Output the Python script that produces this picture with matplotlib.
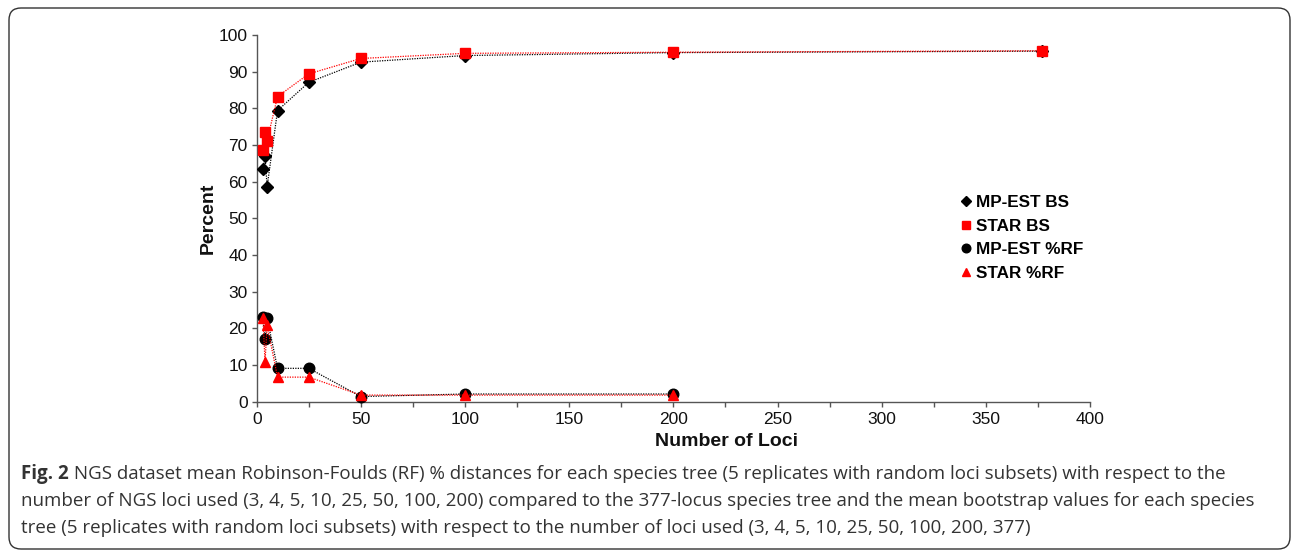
import matplotlib
matplotlib.use("Agg")
import matplotlib.pyplot as plt
from matplotlib.lines import Line2D
from matplotlib.patches import FancyBboxPatch
from matplotlib.ticker import MultipleLocator

# ---- data ----
loci_bs = [3, 4, 5, 10, 25, 50, 100, 200, 377]
mpest_bs = [63.5, 67.0, 58.6, 79.4, 87.1, 92.6, 94.4, 95.2, 95.6]
star_bs = [68.6, 73.6, 71.2, 83.2, 89.4, 93.6, 95.0, 95.3, 95.7]
loci_rf = [3, 4, 5, 10, 25, 50, 100, 200]
mpest_rf = [23.0, 17.0, 22.8, 9.1, 9.1, 1.4, 2.1, 2.1]
star_rf = [22.8, 10.9, 20.8, 6.7, 6.7, 1.8, 1.8, 1.8]
series_labels = ["MP-EST BS", "STAR BS", "MP-EST %RF", "STAR %RF"]
x_label = "Number of Loci"
y_label = "Percent"
caption_bold = "Fig. 2"
caption_lines = [
    " NGS dataset mean Robinson-Foulds (RF) % distances for each species tree (5 replicates with random loci subsets) with respect to the",
    "number of NGS loci used (3, 4, 5, 10, 25, 50, 100, 200) compared to the 377-locus species tree and the mean bootstrap values for each species",
    "tree (5 replicates with random loci subsets) with respect to the number of loci used (3, 4, 5, 10, 25, 50, 100, 200, 377)",
]

W, H = 1292, 551
plt.rcParams['font.family'] = ['Liberation Sans', 'DejaVu Sans']
fig = plt.figure(figsize=(W / 100, H / 100), dpi=100)
fig.patch.set_facecolor('white')

# rounded frame
frame = FancyBboxPatch((9 / 100, 2 / 100), (1290 - 9) / 100, (549 - 8) / 100,
                       boxstyle="round,pad=0,rounding_size=0.12",
                       transform=fig.dpi_scale_trans, facecolor='none',
                       edgecolor='#333333', linewidth=1.0, zorder=0)
fig.patches.append(frame)

left, right, top, bottom = 256.7, 1090.0, 35.0, 401.7
ax = fig.add_axes([left / W, 1 - bottom / H, (right - left) / W, (bottom - top) / H])
ax.set_facecolor('none')

ax.plot(loci_bs, mpest_bs, linestyle=(0, (1, 1)), color='black', lw=0.9,
        marker='D', ms=6.2, mfc='black', mec='black', label=series_labels[0], zorder=3)
ax.plot(loci_bs, star_bs, linestyle=(0, (1, 1)), color='red', lw=0.9,
        marker='s', ms=7.0, mfc='red', mec='red', label=series_labels[1], zorder=4)
ax.plot(loci_rf, mpest_rf, linestyle=(0, (1, 1)), color='black', lw=0.9,
        marker='o', ms=7.6, mfc='black', mec='black', label=series_labels[2], zorder=5)
ax.plot(loci_rf, star_rf, linestyle=(0, (1, 1)), color='red', lw=0.9,
        marker='^', ms=7.6, mfc='red', mec='red', label=series_labels[3], zorder=6)

ax.set_xlim(0, 400)
ax.set_ylim(0, 100)
ax.xaxis.set_major_locator(MultipleLocator(50))
ax.xaxis.set_minor_locator(MultipleLocator(25))
ax.yaxis.set_major_locator(MultipleLocator(10))
for s in ['top', 'right']:
    ax.spines[s].set_visible(False)
for s in ['left', 'bottom']:
    ax.spines[s].set_color('#555555')
    ax.spines[s].set_linewidth(1.0)
    ax.spines[s].set_zorder(1)
ax.tick_params(axis='both', which='both', direction='out', length=3.5, width=1.0,
               color='#555555', labelsize=12.5, labelcolor='#111111')
ax.tick_params(axis='y', pad=3)
ax.tick_params(axis='x', pad=4)
for l in ax.lines:
    l.set_clip_on(False)

fig.text(208 / W, 1 - 218 / H, y_label, rotation=90, ha='center', va='center',
         fontsize=14, fontweight='bold', color='#111111')
fig.text(726 / W, 1 - 442 / H, x_label, ha='center', va='center',
         fontsize=14, fontweight='bold', color='#111111')

handles = [
    Line2D([], [], ls='none', marker='D', ms=4.6, color='black'),
    Line2D([], [], ls='none', marker='s', ms=5.5, color='red'),
    Line2D([], [], ls='none', marker='o', ms=6.2, color='black'),
    Line2D([], [], ls='none', marker='^', ms=6.2, color='red'),
]
leg = ax.legend(handles, series_labels, loc='upper left',
                bbox_to_anchor=(961 / W, 1 - 195 / H), bbox_transform=fig.transFigure,
                frameon=False, handlelength=0.55, handletextpad=0.35,
                labelspacing=0.5, borderpad=0, borderaxespad=0,
                prop={'weight': 'bold', 'size': 12.3})

# caption
cap_font = dict(family=['Open Sans', 'DejaVu Sans'], fontsize=13.5, color='#333333')
baselines = [479, 506, 533]
fig.canvas.draw()
renderer = fig.canvas.get_renderer()
tb = fig.text(21 / W, 1 - baselines[0] / H, caption_bold, fontweight='bold',
              va='baseline', ha='left', **cap_font)
bb = tb.get_window_extent(renderer=renderer)
fig.text(bb.x1 / W, 1 - baselines[0] / H, caption_lines[0], va='baseline', ha='left', **cap_font)
for line, yb in zip(caption_lines[1:], baselines[1:]):
    fig.text(21 / W, 1 - yb / H, line, va='baseline', ha='left', **cap_font)

fig.savefig("out.png", dpi=100, facecolor='white')
